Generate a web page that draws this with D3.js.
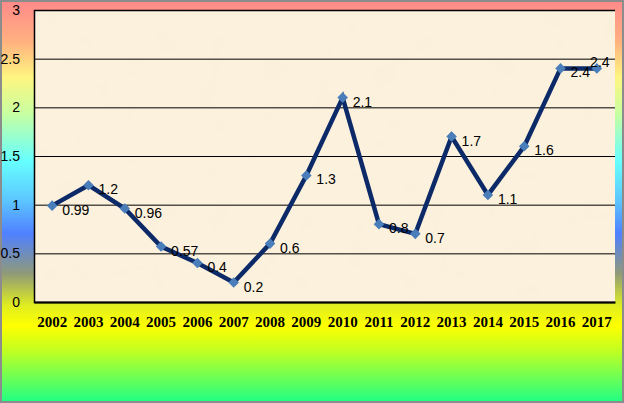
<!DOCTYPE html>
<html>
<head>
<meta charset="utf-8">
<script src="https://cdn.jsdelivr.net/npm/d3@7"></script>
<style>
  body { margin: 0; padding: 0; }
  svg { display: block; }
</style>
</head>
<body>
<div id="chart"></div>
<script>
// data
var years = ["2002","2003","2004","2005","2006","2007","2008","2009","2010","2011","2012","2013","2014","2015","2016","2017"];
var values = [0.99, 1.2, 0.96, 0.57, 0.4, 0.2, 0.6, 1.3, 2.1, 0.8, 0.7, 1.7, 1.1, 1.6, 2.4, 2.4];
var yTicks = [0, 0.5, 1, 1.5, 2, 2.5, 3];

// setup
var w = 624;
var h = 403;
var plot = {left: 34, top: 10, right: 615, bottom: 302};

var svg = d3.select("#chart")
    .append("svg")
    .attr("width", w)
    .attr("height", h);

var defs = svg.append("defs");

// rainbow background
var bg = defs.append("linearGradient")
    .attr("id", "bg")
    .attr("x1", 0).attr("y1", 0).attr("x2", 0).attr("y2", 1);
[
  [0.00, "#ff8a8a"], [0.10, "#ffb080"], [0.19, "#fff580"], [0.28, "#c8ffa0"],
  [0.40, "#66ffff"], [0.50, "#5cc4ff"], [0.58, "#4f80ff"], [0.68, "#909a78"],
  [0.76, "#e0ee20"], [0.81, "#ffff00"], [0.87, "#c4ff20"], [1.00, "#20ff84"]
].forEach(function(s){
    bg.append("stop").attr("offset", s[0]).attr("stop-color", s[1]);
});

// parchment texture
var f = defs.append("filter").attr("id", "paper")
    .attr("x", 0).attr("y", 0).attr("width", "100%").attr("height", "100%");
f.append("feTurbulence").attr("type", "fractalNoise")
    .attr("baseFrequency", 0.035).attr("numOctaves", 3).attr("seed", 4).attr("result", "noise");
f.append("feColorMatrix").attr("in", "noise").attr("type", "matrix")
    .attr("values", "0 0 0 0 0.93  0 0 0 0 0.86  0 0 0 0 0.72  0 0 0 0.22 0")
    .attr("result", "tint");
f.append("feComposite").attr("in", "tint").attr("in2", "SourceGraphic").attr("operator", "atop");

svg.append("rect")
    .attr("x", 1).attr("y", 1).attr("width", w - 2).attr("height", h - 2)
    .attr("fill", "url(#bg)")
    .attr("stroke", "#8c8c8c")
    .attr("stroke-width", 2);

// scales
var x = d3.scaleBand().domain(years).range([plot.left, plot.right]);
var y = d3.scaleLinear().domain([0, 3]).range([plot.bottom, plot.top]);

svg.append("rect")
    .attr("x", plot.left).attr("y", plot.top)
    .attr("width", plot.right - plot.left).attr("height", plot.bottom - plot.top)
    .attr("fill", "#fcf1dc")
    .attr("filter", "url(#paper)");

// gridlines + y labels
var yAxis = d3.axisLeft(y).tickValues(yTicks).tickSize(-(plot.right - plot.left)).tickPadding(14)
    .tickFormat(function(d){ return d; });
var gy = svg.append("g").attr("transform", "translate(" + plot.left + ",0)").call(yAxis);
gy.select(".domain").attr("stroke", "#000").attr("stroke-width", 1.5);
gy.selectAll(".tick line").attr("stroke", "#000").attr("stroke-width", 1);
gy.selectAll(".tick text")
    .attr("font-family", "'Liberation Sans', Arial, sans-serif")
    .attr("font-size", 14)
    .attr("fill", "#000");

// x axis
var xAxis = d3.axisBottom(x).tickSize(0).tickPadding(14);
var gx = svg.append("g").attr("transform", "translate(0," + plot.bottom + ")").call(xAxis);
gx.select(".domain").attr("stroke", "#000").attr("stroke-width", 2);
gx.selectAll(".tick text")
    .attr("font-family", "'Liberation Serif', 'Times New Roman', serif")
    .attr("font-weight", "bold")
    .attr("font-size", 15)
    .attr("fill", "#000");

// line
var line = d3.line()
    .x(function(d, i){ return x(years[i]) + x.bandwidth() / 2; })
    .y(function(d){ return y(d); });

svg.append("path")
    .datum(values)
    .attr("d", line)
    .attr("fill", "none")
    .attr("stroke", "#0d2a68")
    .attr("stroke-width", 4.5)
    .attr("stroke-linejoin", "miter");

// markers
svg.append("g").selectAll("path")
    .data(values)
    .enter()
    .append("path")
    .attr("d", d3.symbol().type(d3.symbolSquare).size(56))
    .attr("transform", function(d, i){
        return "translate(" + (x(years[i]) + x.bandwidth() / 2) + "," + y(d) + ") rotate(45)";
    })
    .attr("fill", "#4a7ebb");

// value labels
svg.append("g").selectAll("text")
    .data(values)
    .enter()
    .append("text")
    .attr("x", function(d, i){
        var cx = x(years[i]) + x.bandwidth() / 2;
        return i == values.length - 1 ? cx + 3 : cx + 10;
    })
    .attr("y", function(d, i){
        return i == values.length - 1 ? y(d) - 1 : y(d) + 9;
    })
    .attr("text-anchor", function(d, i){ return i == values.length - 1 ? "middle" : "start"; })
    .attr("font-family", "'Liberation Sans', Arial, sans-serif")
    .attr("font-size", 14)
    .attr("fill", "#000")
    .text(function(d){ return d; });
</script>
</body>
</html>
